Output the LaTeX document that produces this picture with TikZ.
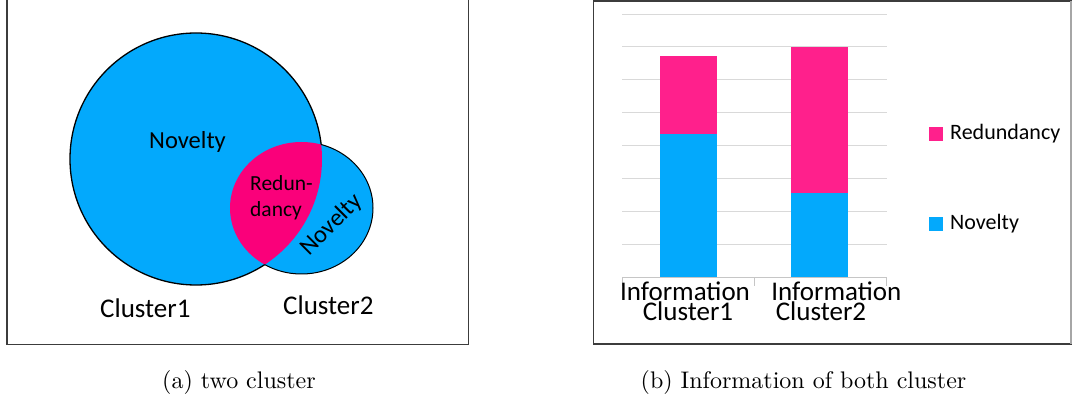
\documentclass[tikz,border=0pt]{standalone}
\usepackage{fontspec}
\newfontfamily\calib{Carlito}
\definecolor{nvblue}{RGB}{3,169,252}
\definecolor{rdpink}{RGB}{250,0,122}
\definecolor{barpink}{RGB}{255,32,140}
\definecolor{framegray}{RGB}{60,60,60}
\definecolor{gridgray}{RGB}{217,217,217}
\begin{document}
\begin{tikzpicture}[x=1pt,y=-1pt,
  panel/.style={draw=framegray, line width=1.5pt},
  lbl/.style={inner sep=0pt, font=\calib\fontsize{#1}{#1}\selectfont},
  caption/.style={inner sep=0pt, font=\fontsize{10}{12}\selectfont},
  grid line/.style={draw=gridgray, line width=1pt},
  venn edge/.style={draw=black, line width=1.3pt}]
\useasboundingbox (0,0) rectangle (1072,403);

% ---------- panel (a): two clusters ----------
\draw[panel] (7,-3) rectangle (468.3,344.3);

\def\bigc{(196,159) circle[radius=126pt]}
\def\smallc{(301.5,208) ellipse[x radius=71.5pt, y radius=66pt]}

\fill[nvblue] \bigc;
\fill[nvblue] \smallc;
\begin{scope}
  \clip \smallc;
  \fill[rdpink] \bigc;
\end{scope}
% outlines, each only where it lies outside the other cluster
\begin{scope}[even odd rule]
  \clip (0,0) rectangle (1072,403) \smallc;
  \draw[venn edge] \bigc;
\end{scope}
\begin{scope}[even odd rule]
  \clip (0,0) rectangle (1072,403) \bigc;
  \draw[venn edge, line width=1pt] \smallc;
\end{scope}

\node[lbl=24.5, anchor=base] (nov1) at (187.5,149) {Novelty};
\node[lbl=21.5, anchor=base west] (red1) at (250,190.7) {Redun-};
\node[lbl=21.5, anchor=base west] (red2) at (250,216.7) {dancy};
\node[lbl=24.5, anchor=base west, rotate=45] (nov2) at (309,257) {Novelty};
\node[lbl=27, anchor=base west] (cl1) at (100,318) {Cluster1};
\node[lbl=27, anchor=base west] (cl2) at (283,315) {Cluster2};

% ---------- panel (b): stacked bars ----------
\draw[panel] (593.7,1) rectangle (1071,344);
\draw[draw=gray!70, line width=1.5pt] (1071,1) -- (1071,344);

\foreach \k in {1,...,8}
  \draw[grid line] (622,{277.3-32.9*\k}) -- (887,{277.3-32.9*\k});
\draw[grid line, draw=gray!45] (622,277.3) -- (887,277.3);
\foreach \tx in {622,754.3,886.7}
  \draw[grid line, draw=gray!45] (\tx,277.3) -- (\tx,286);

\fill[nvblue]  (660,277.3) rectangle (717,133.7);
\fill[barpink] (660,133.7) rectangle (717,56);
\fill[nvblue]  (791,277.3) rectangle (847.5,193.3);
\fill[barpink] (791,193.3) rectangle (847.5,47.5);

\node[lbl=27, anchor=base] (inf1) at (685,300.7) {Information};
\node[lbl=27, anchor=base] (cb1)  at (688,320.7) {Cluster1};
\node[lbl=27, anchor=base] (inf2) at (836.3,300.7) {Information};
\node[lbl=27, anchor=base] (cb2)  at (821,320.7) {Cluster2};

\fill[barpink] (929.3,127.3) rectangle (942.7,140.7);
\fill[nvblue]  (929.3,217.3) rectangle (942.7,230.7);
\node[lbl=22, anchor=base west] (lg1) at (950,140) {Redundancy};
\node[lbl=22, anchor=base west] (lg2) at (950,230) {Novelty};

% ---------- captions (10pt text enlarged) ----------
\node[caption, anchor=base] (capa) at (239,389) {\scalebox{2.4}{(a) two cluster}};
\node[caption, anchor=base] (capb) at (803.5,389) {\scalebox{2.4}{(b) Information of both cluster}};
\end{tikzpicture}
\end{document}
